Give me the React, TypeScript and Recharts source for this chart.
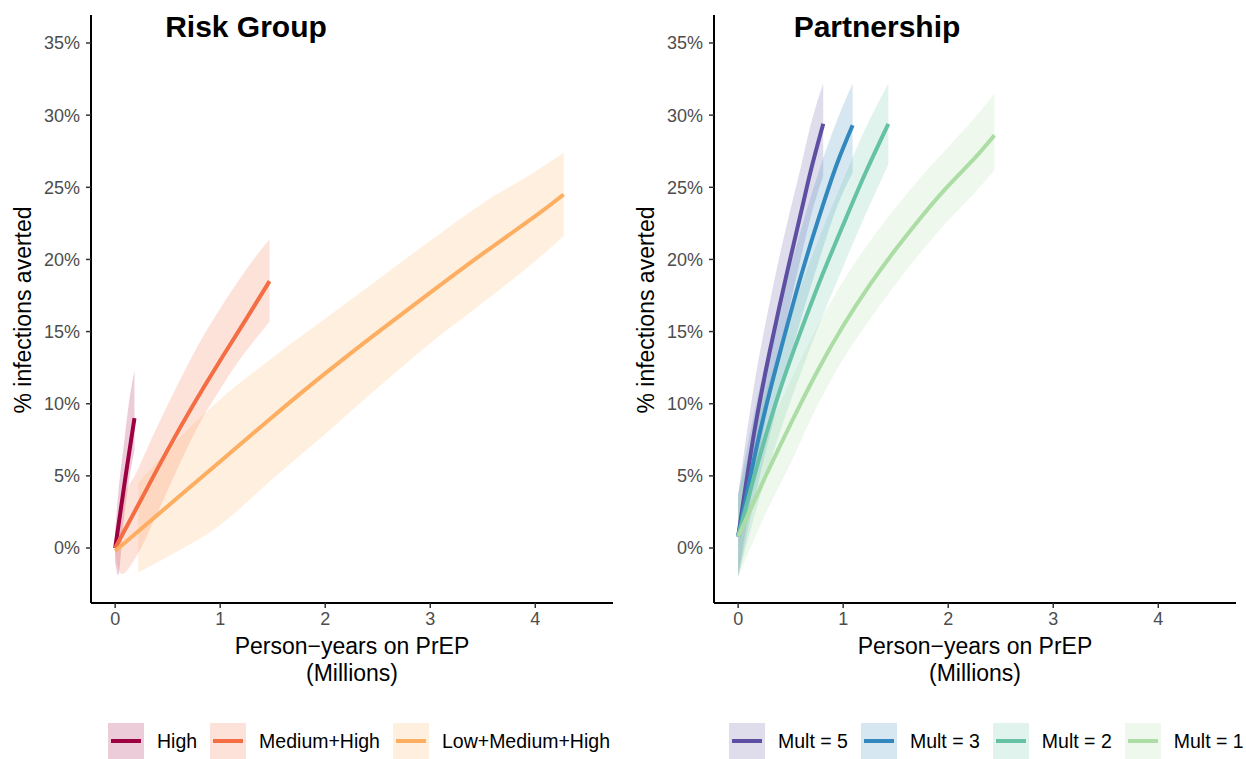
import { ComposedChart, Area, Line, XAxis, YAxis } from "recharts";

const FONT = "'Liberation Sans', Arial, Helvetica, sans-serif";

// ---- Risk Group panel ----
const highX = [0, 0.05, 0.1, 0.15, 0.184];
const highY = [0, 2.5, 5.0, 7.4, 9.0];
const highBandX = [0, 0.03, 0.08, 0.13, 0.184];
const highLo = [-1.0, -1.9, 1.8, 4.6, 6.8];
const highHi = [1.2, 3.8, 7.0, 10.0, 12.3];

const medX = [0, 0.25, 0.5, 0.75, 1.0, 1.25, 1.47];
const medY = [0, 3.4, 6.8, 10.0, 13.0, 15.9, 18.5];
const medBandX = [0, 0.06, 0.2, 0.4, 0.6, 0.8, 1.0, 1.2, 1.35, 1.47];
const medLo = [-0.5, -1.8, -0.6, 2.4, 5.6, 8.6, 11.0, 13.2, 14.6, 15.7];
const medHi = [0.5, 3.0, 5.2, 8.4, 11.4, 14.2, 16.6, 18.8, 20.3, 21.4];

const lowX = [0, 0.5, 1, 1.5, 2, 2.5, 3, 3.5, 4, 4.27];
const lowY = [-0.2, 2.9, 6.0, 9.1, 12.1, 14.95, 17.7, 20.4, 23.0, 24.5];
const lowBandX = [0.22, 0.5, 1, 1.5, 2, 2.5, 3, 3.5, 4, 4.27];
const lowLo = [-1.7, -0.6, 1.6, 4.8, 7.9, 11.1, 14.2, 17.0, 19.9, 21.6];
const lowHi = [4.5, 6.8, 10.3, 13.2, 15.9, 18.6, 21.3, 23.9, 26.1, 27.4];

// ---- Partnership panel ----
const m5X = [0, 0.15, 0.3, 0.45, 0.6, 0.7, 0.81];
const m5Y = [0.8, 7.9, 13.6, 18.6, 23.3, 26.4, 29.4];
const m5Lo = [-2.0, 4.6, 10.3, 15.4, 20.2, 23.2, 25.8];
const m5Hi = [3.7, 11.2, 17.0, 22.0, 26.5, 29.6, 32.2];

const m3X = [0, 0.2, 0.4, 0.6, 0.8, 0.95, 1.09];
const m3Y = [0.8, 7.8, 13.6, 18.9, 23.6, 26.8, 29.3];
const m3Lo = [-2.0, 4.8, 10.6, 15.9, 20.6, 23.8, 26.0];
const m3Hi = [3.7, 11.0, 16.8, 22.1, 26.8, 29.8, 32.2];

const m2X = [0, 0.2, 0.4, 0.6, 0.8, 1.0, 1.2, 1.43];
const m2Y = [0.8, 6.2, 11.0, 15.1, 18.9, 22.4, 25.8, 29.4];
const m2Lo = [-2.0, 3.4, 8.1, 12.2, 16.0, 19.5, 22.9, 26.6];
const m2Hi = [3.7, 9.3, 14.0, 18.2, 22.0, 25.5, 28.9, 32.2];

const m1X = [0, 0.25, 0.5, 0.75, 1.0, 1.25, 1.5, 1.75, 2.0, 2.25, 2.44];
const m1Y = [0.8, 4.8, 8.6, 12.2, 15.4, 18.2, 20.7, 23.0, 25.1, 27.0, 28.6];
const m1Lo = [-2.0, 2.2, 5.9, 9.8, 13.1, 15.8, 18.3, 20.6, 22.7, 24.6, 26.2];
const m1Hi = [3.7, 7.6, 11.6, 15.3, 18.5, 21.2, 23.6, 25.8, 27.8, 29.8, 31.5];

const xTicks = [0, 1, 2, 3, 4];
const yTicks = [0, 5, 10, 15, 20, 25, 30, 35];

const toLine = (xs: number[], ys: number[]) => xs.map((x, i) => ({ x, y: ys[i] }));
const toBand = (xs: number[], lo: number[], hi: number[]) =>
  xs.map((x, i) => ({ x, band: [lo[i], hi[i]] }));

interface Series {
  name: string;
  color: string;
  line: { x: number; y: number }[];
  band: { x: number; band: number[] }[];
}

const riskSeries: Series[] = [
  { name: "High", color: "#9E0142", line: toLine(highX, highY), band: toBand(highBandX, highLo, highHi) },
  { name: "Medium+High", color: "#F46D43", line: toLine(medX, medY), band: toBand(medBandX, medLo, medHi) },
  { name: "Low+Medium+High", color: "#FDAE61", line: toLine(lowX, lowY), band: toBand(lowBandX, lowLo, lowHi) },
];

const partnerSeries: Series[] = [
  { name: "Mult = 5", color: "#5E4FA2", line: toLine(m5X, m5Y), band: toBand(m5X, m5Lo, m5Hi) },
  { name: "Mult = 3", color: "#3288BD", line: toLine(m3X, m3Y), band: toBand(m3X, m3Lo, m3Hi) },
  { name: "Mult = 2", color: "#66C2A5", line: toLine(m2X, m2Y), band: toBand(m2X, m2Lo, m2Hi) },
  { name: "Mult = 1", color: "#ABDDA4", line: toLine(m1X, m1Y), band: toBand(m1X, m1Lo, m1Hi) },
];

const tickStyle = { fill: "#4D4D4D", fontSize: 18, fontFamily: FONT };

function Panel({
  left,
  title,
  titleX,
  series,
  legendLeft,
}: {
  left: number;
  title: string;
  titleX: number;
  series: Series[];
  legendLeft: number;
}) {
  return (
    <div style={{ position: "absolute", left, top: 0, width: 623, height: 759 }}>
      <ComposedChart width={623} height={759} margin={{ top: 15, right: 10, left: 0, bottom: 0 }}>
        <XAxis
          type="number"
          dataKey="x"
          domain={[-0.23, 4.74]}
          ticks={xTicks}
          allowDataOverflow
          height={156}
          tick={tickStyle}
          tickSize={5}
          tickMargin={4}
          axisLine={{ stroke: "#000", strokeWidth: 2 }}
          tickLine={{ stroke: "#333", strokeWidth: 1.5 }}
        />
        <YAxis
          type="number"
          domain={[-3.81, 36.94]}
          ticks={yTicks}
          allowDataOverflow
          width={91}
          tick={tickStyle}
          tickSize={5}
          tickMargin={6}
          tickFormatter={(v: number) => `${v}%`}
          axisLine={{ stroke: "#000", strokeWidth: 2 }}
          tickLine={{ stroke: "#333", strokeWidth: 1.5 }}
        />
        {series.map((s) => (
          <Area
            key={s.name + "-band"}
            data={s.band}
            dataKey="band"
            type="monotone"
            stroke="none"
            fill={s.color}
            fillOpacity={0.2}
            isAnimationActive={false}
          />
        ))}
        {series.map((s) => (
          <Line
            key={s.name + "-line"}
            data={s.line}
            dataKey="y"
            type="natural"
            stroke={s.color}
            strokeWidth={4}
            dot={false}
            activeDot={false}
            isAnimationActive={false}
          />
        ))}
      </ComposedChart>

      <div
        style={{
          position: "absolute",
          left: titleX,
          top: 27,
          transform: "translate(-50%, -50%)",
          fontFamily: FONT,
          fontWeight: "bold",
          fontSize: 30,
          color: "#000",
          whiteSpace: "nowrap",
        }}
      >
        {title}
      </div>

      <div
        style={{
          position: "absolute",
          left: 23,
          top: 310,
          transform: "translate(-50%, -50%) rotate(-90deg)",
          fontFamily: FONT,
          fontSize: 23,
          color: "#000",
          whiteSpace: "nowrap",
        }}
      >
        % infections averted
      </div>

      <div
        style={{
          position: "absolute",
          left: 352,
          top: 660,
          transform: "translate(-50%, -50%)",
          fontFamily: FONT,
          fontSize: 23,
          lineHeight: "27px",
          color: "#000",
          textAlign: "center",
          whiteSpace: "nowrap",
        }}
      >
        Person−years on PrEP
        <br />
        (Millions)
      </div>

      <div
        style={{
          position: "absolute",
          left: legendLeft,
          top: 723,
          height: 36,
          display: "flex",
          alignItems: "center",
          fontFamily: FONT,
          fontSize: 19.5,
          color: "#000",
          whiteSpace: "nowrap",
        }}
      >
        {series.map((s) => (
          <div key={s.name} style={{ display: "flex", alignItems: "center", marginRight: 13 }}>
            <svg width={36} height={36} style={{ marginRight: 13 }}>
              <rect x={0} y={0} width={36} height={36} fill={s.color} fillOpacity={0.2} />
              <line x1={3} x2={33} y1={18} y2={18} stroke={s.color} strokeWidth={4} />
            </svg>
            <span>{s.name}</span>
          </div>
        ))}
      </div>
    </div>
  );
}

export default function App() {
  return (
    <div
      style={{
        position: "absolute",
        left: 0,
        top: 0,
        width: 1246,
        height: 759,
        background: "#fff",
        overflow: "hidden",
      }}
    >
      <Panel left={0} title="Risk Group" titleX={246} series={riskSeries} legendLeft={108} />
      <Panel left={623} title="Partnership" titleX={254} series={partnerSeries} legendLeft={106} />
    </div>
  );
}
